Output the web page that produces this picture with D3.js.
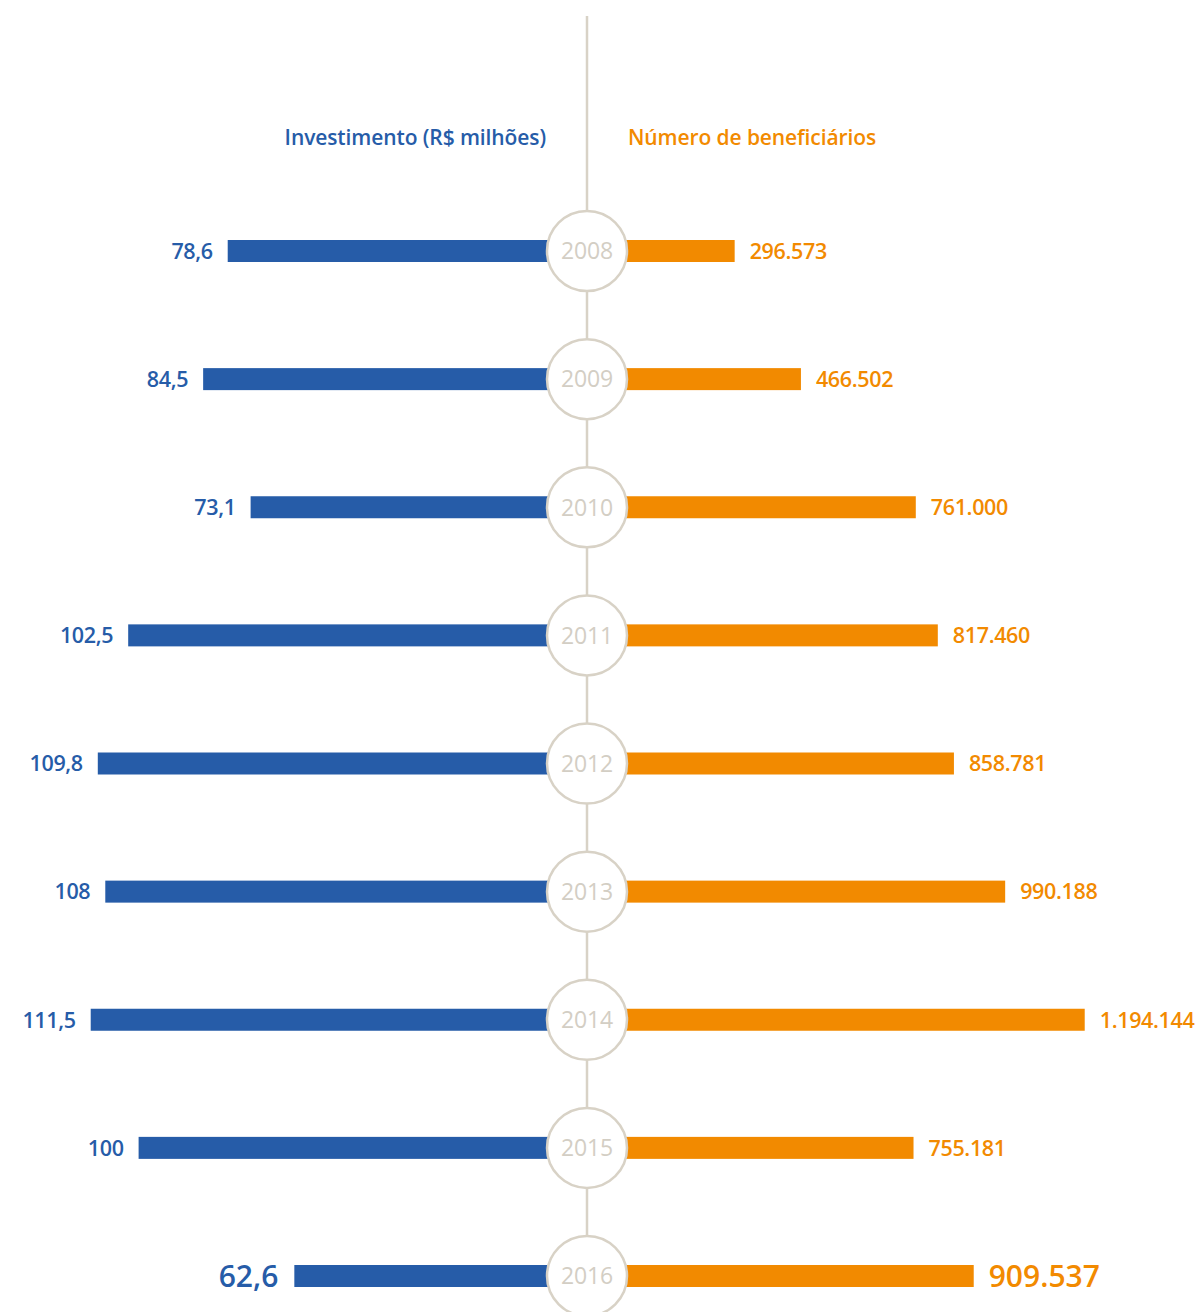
<!DOCTYPE html>
<html lang="pt-BR">
<head>
<meta charset="utf-8">
<script src="https://cdn.jsdelivr.net/npm/d3@7"></script>
<style>
  html, body { margin: 0; padding: 0; background: #ffffff; }
  svg { display: block; }
  text { font-family: "Open Sans", "Noto Sans", sans-serif; }
</style>
</head>
<body>
<svg id="chart" width="1195" height="1312"></svg>
<script>
// Investimento e beneficiários por ano
const years = ["2008", "2009", "2010", "2011", "2012", "2013", "2014", "2015", "2016"];
const investimento = [78.6, 84.5, 73.1, 102.5, 109.8, 108, 111.5, 100, 62.6];
const beneficiarios = [296573, 466502, 761000, 817460, 858781, 990188, 1194144, 755181, 909537];
const investLabels = ["78,6", "84,5", "73,1", "102,5", "109,8", "108", "111,5", "100", "62,6"];
const benefLabels = ["296.573", "466.502", "761.000", "817.460", "858.781", "990.188", "1.194.144", "755.181", "909.537"];
const headers = { left: "Investimento (R$ milhões)", right: "Número de beneficiários" };

const BLUE = "#265CA8";
const ORANGE = "#F28A00";
const BEIGE = "#D8D2C6";
const YEAR_GRAY = "#D3CEC4";

const svg = d3.select("#chart");
const cx = 587;
const gap = 32;          // bars start under the year circle
const radius = 40;
const barH = 22;

const y = d3.scalePoint().domain(years).range([251, 1276]);

const xLeft = d3.scaleLinear().domain([0, 120]).range([cx - gap, cx - gap - 4.164 * 120]);
const xRight = d3.scaleLinear().domain([0, 1200000]).range([cx + gap, cx + gap + 0.00039 * 1200000]);

// central timeline
svg.append("line")
  .attr("x1", cx).attr("x2", cx)
  .attr("y1", 16).attr("y2", 1312)
  .attr("stroke", BEIGE).attr("stroke-width", 2.5);

// headers
svg.append("text")
  .attr("x", 546).attr("y", 137)
  .attr("dy", "0.38em")
  .attr("text-anchor", "end")
  .attr("fill", BLUE)
  .attr("font-size", 21)
  .attr("font-weight", 600)
  .attr("letter-spacing", -0.1)
  .text(headers.left);

svg.append("text")
  .attr("x", 628).attr("y", 137)
  .attr("dy", "0.38em")
  .attr("text-anchor", "start")
  .attr("fill", ORANGE)
  .attr("font-size", 21)
  .attr("font-weight", 600)
  .attr("letter-spacing", -0.1)
  .text(headers.right);

const rows = years.map((yr, i) => ({
  year: yr,
  inv: investimento[i],
  ben: beneficiarios[i],
  invLabel: investLabels[i],
  benLabel: benefLabels[i],
  last: i === years.length - 1
}));

const g = svg.selectAll("g.row").data(rows).join("g").attr("class", "row")
  .attr("transform", d => `translate(0,${y(d.year)})`);

// investment bars (to the left)
g.append("rect")
  .attr("x", d => xLeft(d.inv))
  .attr("y", -barH / 2)
  .attr("width", d => xLeft(0) - xLeft(d.inv))
  .attr("height", barH)
  .attr("fill", BLUE);

// beneficiaries bars (to the right)
g.append("rect")
  .attr("x", xRight(0))
  .attr("y", -barH / 2)
  .attr("width", d => xRight(d.ben) - xRight(0))
  .attr("height", barH)
  .attr("fill", ORANGE);

// year circles
g.append("circle")
  .attr("cx", cx).attr("cy", 0).attr("r", radius)
  .attr("fill", "#ffffff")
  .attr("stroke", BEIGE)
  .attr("stroke-width", 2.5);

g.append("text")
  .attr("x", cx).attr("y", 0)
  .attr("dy", "0.36em")
  .attr("text-anchor", "middle")
  .attr("fill", YEAR_GRAY)
  .attr("font-size", 23)
  .attr("letter-spacing", -0.2)
  .text(d => d.year);

// value labels
g.append("text")
  .attr("x", d => xLeft(d.inv) - (d.last ? 16 : 15))
  .attr("y", 0)
  .attr("dy", "0.36em")
  .attr("text-anchor", "end")
  .attr("fill", BLUE)
  .attr("font-size", d => d.last ? 30 : 21.5)
  .attr("font-weight", 600)
  .attr("letter-spacing", d => d.last ? 0 : -0.35)
  .text(d => d.invLabel);

g.append("text")
  .attr("x", d => xRight(d.ben) + 15)
  .attr("y", 0)
  .attr("dy", "0.36em")
  .attr("text-anchor", "start")
  .attr("fill", ORANGE)
  .attr("font-size", d => d.last ? 30 : 21.5)
  .attr("font-weight", 600)
  .attr("letter-spacing", d => d.last ? 0 : -0.35)
  .text(d => d.benLabel);
</script>
</body>
</html>
